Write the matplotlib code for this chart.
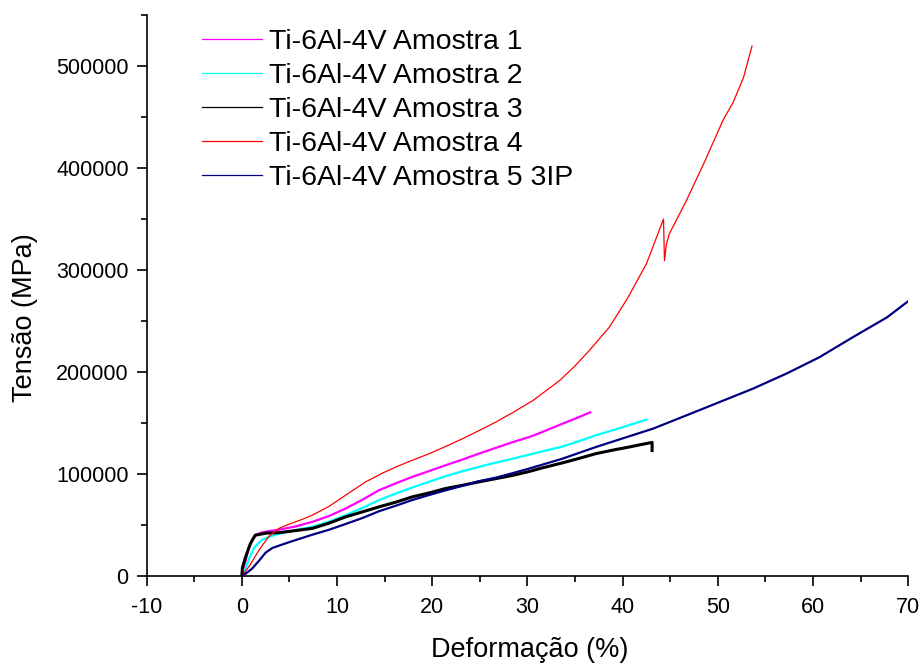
import matplotlib
matplotlib.use("Agg")
import matplotlib.pyplot as plt
from matplotlib.lines import Line2D
from matplotlib.ticker import MultipleLocator

plt.rcParams["font.family"] = ["Liberation Sans", "DejaVu Sans"]
plt.rcParams["axes.unicode_minus"] = False

# Amostra 1 (magenta)
x1 = [0, 0.3, 0.7, 1.1, 1.5, 2.0, 2.8, 3.9, 5.6, 7.4, 9.2, 10.9, 12.7, 14.4, 16.2,
      17.9, 19.7, 21.4, 23.2, 24.9, 26.7, 28.5, 30.2, 31.3, 33.7, 35.2, 36.6]
y1 = [0, 12000, 27000, 36000, 40500, 42500, 44000, 45400, 48500, 53100, 59000, 66200,
      75000, 84100, 91000, 97200, 103000, 108600, 114300, 120000, 125700, 131400,
      136300, 140200, 149400, 155000, 160500]

# Amostra 2 (ciano)
x2 = [0, 0.4, 0.8, 1.3, 2.1, 3.5, 5.6, 7.4, 9.2, 10.9, 12.7, 14.4, 16.2, 17.9, 19.7,
      21.4, 23.2, 24.9, 26.7, 28.5, 30.2, 31.3, 33.7, 35.5, 37.2, 39.0, 40.7, 42.5]
y2 = [0, 8000, 18000, 28000, 35500, 40500, 45000, 48300, 53500, 59700, 67000, 74400,
      81000, 86800, 92500, 97900, 102800, 107000, 111200, 115100, 119000, 121600,
      127000, 132500, 138000, 143000, 148000, 153300]

# Amostra 3 (preto)
x3 = [0, 0.05, 0.4, 0.9, 1.4, 2.5, 3.9, 5.6, 7.4, 9.2, 10.9, 12.7, 14.4, 16.2, 17.9,
      19.7, 21.4, 23.2, 24.9, 26.7, 28.5, 30.2, 31.3, 33.7, 35.5, 37.2, 39.0, 40.7,
      42.0, 43.1, 43.1]
y3 = [0, 8000, 19000, 32000, 40000, 42000, 42500, 44500, 46700, 52000, 58000, 63000,
      67800, 72500, 77600, 81500, 85800, 89000, 92300, 95500, 98800, 102500, 105400,
      111000, 115500, 120000, 123500, 126500, 129000, 131000, 123000]

# Amostra 4 (vermelho)
x4 = [0, 0.8, 1.8, 2.8, 3.9, 5.0, 6.2, 7.4, 9.2, 10.9, 13.0, 14.8, 16.2, 17.9, 19.7,
      21.4, 23.2, 24.9, 26.7, 28.5, 30.6, 32.0, 33.4, 35.0, 36.5, 38.6, 40.5, 42.5,
      44.3, 44.4, 44.6, 44.9, 46.7, 48.5, 50.6, 51.6, 52.7, 53.6]
y4 = [0, 10000, 25500, 38500, 46700, 51000, 55000, 59700, 68500, 79300, 92300, 101000,
      107000, 113500, 120000, 127000, 134700, 142500, 151000, 160500, 172200, 182000,
      191800, 206000, 221100, 243900, 272000, 306000, 350000, 309200, 325000, 335300,
      368000, 403800, 447800, 464100, 488600, 519600]

# Amostra 5 3IP (azul marinho)
x5 = [0, 0.5, 1.1, 1.8, 2.5, 3.2, 4.9, 7.4, 9.2, 10.9, 12.7, 14.4, 16.2, 17.9, 19.7,
      21.4, 23.2, 24.9, 26.7, 28.5, 30.2, 33.7, 37.2, 40.7, 43.2, 46.7, 50.2, 53.7,
      57.2, 60.7, 64.2, 67.8, 70.0]
y5 = [0, 3000, 7500, 15000, 23000, 27500, 33000, 40500, 45500, 51000, 57000, 63500,
      69000, 74500, 79500, 84000, 88500, 93000, 96500, 101000, 105400, 115100, 126500,
      137000, 144500, 157500, 170600, 183700, 198400, 214600, 234200, 253700, 269400]

labels = ["Ti-6Al-4V Amostra 1", "Ti-6Al-4V Amostra 2", "Ti-6Al-4V Amostra 3",
          "Ti-6Al-4V Amostra 4", "Ti-6Al-4V Amostra 5 3IP"]
colors = ["#ff00ff", "#00ffff", "#000000", "#ff0000", "#000080"]
widths = [1.6, 1.6, 2.2, 0.9, 1.6]

fig = plt.figure(figsize=(9.24, 6.66), dpi=100, facecolor="white")
ax = fig.add_axes([0.1588, 0.1351, 0.824, 0.8423])

series = [(x1, y1), (x2, y2), (x3, y3), (x4, y4), (x5, y5)]
for (xs, ys), c, lw in zip(series, colors, widths):
    ax.plot(xs, ys, color=c, lw=lw, solid_joinstyle="round")

ax.set_xlim(-10, 70)
ax.set_ylim(0, 550000)
ax.xaxis.set_major_locator(MultipleLocator(10))
ax.xaxis.set_minor_locator(MultipleLocator(5))
ax.yaxis.set_major_locator(MultipleLocator(100000))
ax.yaxis.set_minor_locator(MultipleLocator(50000))

for side in ("top", "right"):
    ax.spines[side].set_visible(False)
for side in ("left", "bottom"):
    ax.spines[side].set_linewidth(1.2)

ax.tick_params(which="major", direction="out", length=7, width=1.2,
               labelsize=15.5, pad=6)
ax.tick_params(which="minor", direction="out", length=4, width=1.2)
ax.tick_params(axis="x", which="major", pad=8)

ax.set_xlabel("Deformação (%)", fontsize=19.5)
ax.set_ylabel("Tensão (MPa)", fontsize=19.5)
ax.xaxis.set_label_coords(0.503, -0.108)
ax.yaxis.set_label_coords(-0.143, 0.461)

handles = [Line2D([], [], color=c, lw=0.9) for c in colors]
ax.legend(handles, labels, loc="upper left", bbox_to_anchor=(0.2183, 0.957),
          bbox_transform=fig.transFigure, frameon=False, fontsize=20.5,
          handlelength=2.1, handletextpad=0.25, labelspacing=0.28,
          borderpad=0, borderaxespad=0)

fig.savefig("out.png", dpi=100, facecolor="white")
